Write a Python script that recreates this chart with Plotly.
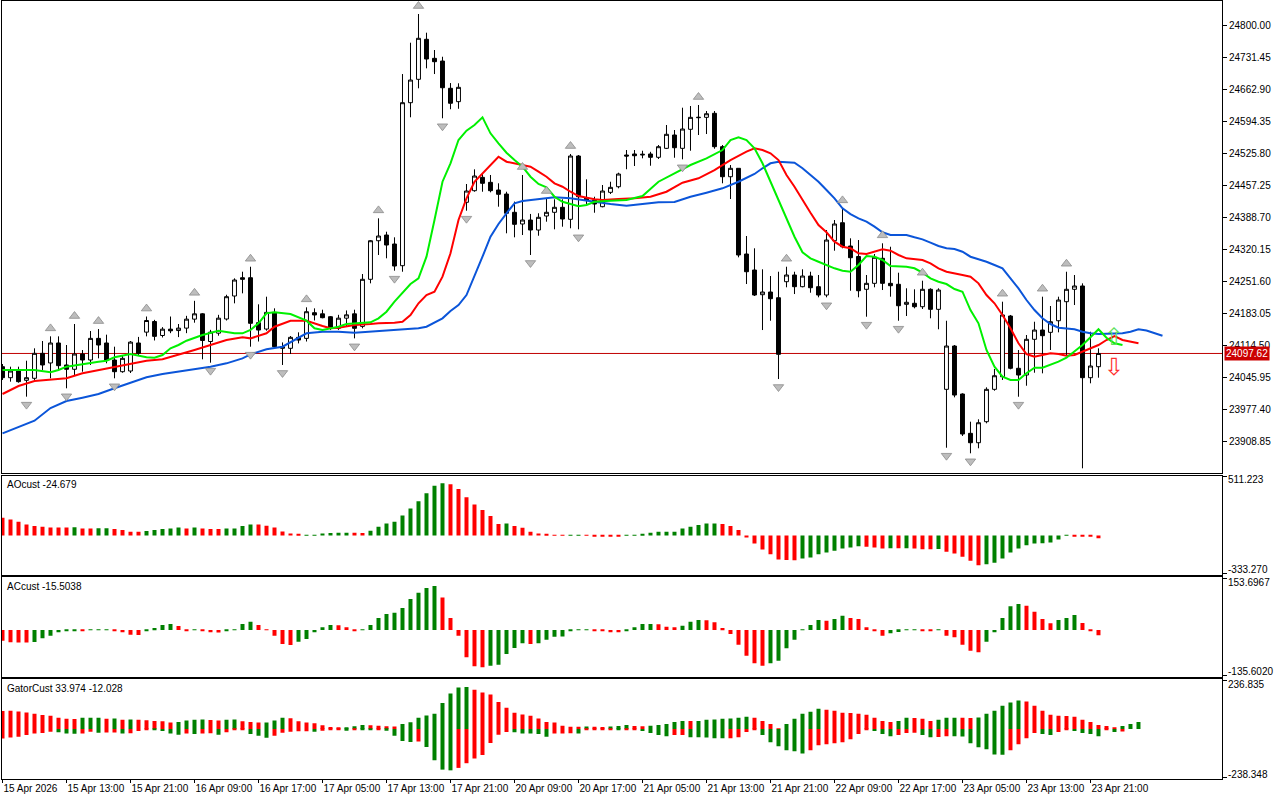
import plotly.graph_objects as go

# ---------------- price data (H1 candles) ----------------
opens = [24069.3,24045.8,24060.1,24040.2,24044.5,24097.9,24077.3,24120.0,24073.0,24063.8,
24096.4,24083.6,24129.9,24120.0,24083.6,24058.6,24060.1,24120.0,24143.2,24165.9,
24136.0,24149.6,24146.6,24151.8,24171.0,24182.4,24123.2,24141.0,24171.3,24220.5,
24259.6,24259.6,24163.4,24149.8,24185.5,24108.6,24108.6,24132.1,24129.9,24184.8,
24182.4,24176.2,24151.4,24173.1,24182.4,24155.5,24256.2,24338.7,24350.9,24331.7,
24285.3,24633.9,24683.9,24769.5,24728.8,24723.0,24664.7,24636.1,24420.9,24445.7,
24474.3,24463.6,24447.2,24438.6,24399.5,24374.5,24383.0,24361.6,24391.6,24399.5,
24410.2,24384.5,24519.9,24430.7,24425.8,24411.5,24442.2,24454.2,24522.0,24524.2,
24522.0,24524.2,24517.1,24536.3,24564.8,24536.3,24577.0,24601.8,24602.6,24611.2,
24539.8,24475.6,24493.6,24310.3,24276.1,24223.3,24229.0,24216.8,24251.1,24265.4,
24240.4,24263.2,24240.4,24222.6,24338.7,24377.2,24327.4,24305.0,24234.8,24247.6,
24301.1,24247.6,24245.5,24202.7,24204.9,24197.6,24234.8,24192.0,24020.9,24113.5,
24010.9,23926.8,23906.7,23951.7,24020.9,24047.9,24177.7,24065.9,24051.5,24127.9,
24147.7,24142.8,24167.6,24208.3,24234.8,24241.9,24045.8,24069.3]
highs = [24075.1,24069.3,24069.3,24082.1,24108.6,24124.2,24134.2,24134.2,24115.7,24160.6,
24105.0,24145.6,24149.8,24137.8,24112.1,24094.3,24124.2,24133.0,24176.6,24169.5,
24153.9,24176.6,24160.6,24178.1,24210.2,24183.8,24148.1,24180.2,24223.2,24258.3,
24272.5,24283.1,24202.7,24219.0,24194.1,24121.2,24134.9,24142.8,24196.3,24194.1,
24191.2,24177.7,24180.2,24189.6,24191.2,24267.5,24340.2,24386.6,24358.0,24346.0,
24695.2,24762.2,24823.6,24783.6,24746.6,24732.2,24675.9,24675.4,24460.0,24491.4,
24482.9,24479.3,24461.5,24443.5,24422.4,24479.3,24396.0,24397.4,24428.0,24427.3,
24427.3,24524.2,24522.0,24470.0,24432.8,24457.9,24464.9,24484.2,24532.7,24532.7,
24531.2,24528.9,24543.4,24586.2,24575.5,24623.2,24626.8,24629.0,24616.1,24616.1,
24543.4,24500.6,24493.6,24348.8,24322.5,24277.6,24263.2,24272.4,24283.1,24272.4,
24277.6,24272.4,24265.4,24361.6,24383.0,24408.0,24343.9,24340.2,24265.4,24310.3,
24333.2,24325.9,24270.3,24237.0,24234.8,24253.2,24237.0,24237.0,24167.6,24115.7,
24012.4,23951.7,23956.8,24025.2,24064.4,24208.3,24179.9,24105.0,24137.1,24165.5,
24219.0,24199.1,24219.0,24272.4,24265.4,24247.6,24144.1,24108.6]
lows = [24040.9,24037.3,24035.1,24005.2,24040.9,24062.3,24044.5,24062.3,24023.1,24051.5,
24058.6,24073.0,24087.2,24076.6,24044.5,24056.4,24055.8,24094.3,24134.2,24125.4,
24131.8,24141.0,24132.6,24141.0,24163.4,24085.1,24077.9,24135.6,24168.1,24204.8,
24226.2,24112.1,24123.2,24146.3,24110.8,24073.0,24096.4,24119.1,24123.2,24168.2,
24172.8,24147.7,24147.7,24155.5,24129.9,24151.4,24247.6,24308.2,24301.1,24274.6,
24272.4,24602.7,24664.7,24707.4,24695.2,24600.6,24619.9,24620.9,24402.9,24443.5,
24443.5,24442.2,24411.5,24354.6,24346.0,24350.9,24308.2,24349.4,24379.4,24363.1,
24368.7,24365.3,24363.1,24417.2,24398.6,24410.2,24438.6,24450.8,24491.6,24498.5,
24514.9,24499.1,24513.5,24534.8,24516.2,24512.8,24531.2,24564.8,24566.9,24535.5,
24461.5,24427.9,24303.2,24246.1,24220.5,24147.7,24167.6,24042.9,24239.1,24224.7,
24239.1,24227.5,24217.7,24217.7,24317.4,24322.5,24231.8,24217.7,24176.2,24239.1,
24233.3,24219.0,24167.6,24177.7,24194.1,24192.7,24172.8,24149.3,23896.0,24003.8,
23921.1,23884.1,23894.8,23948.2,24017.9,24040.9,24063.7,24005.1,24028.6,24056.4,
24055.1,24105.0,24142.8,24092.2,24201.2,23852.0,24033.8,24045.8]
closes = [24045.8,24060.1,24037.3,24045.8,24097.9,24073.0,24120.0,24071.5,24063.8,24096.4,
24083.6,24129.9,24115.7,24083.6,24058.6,24087.2,24121.9,24097.9,24168.1,24134.2,
24149.6,24146.0,24151.8,24171.0,24182.4,24125.4,24143.2,24173.1,24219.0,24254.7,
24256.2,24162.1,24147.7,24185.5,24112.1,24112.1,24132.1,24126.3,24186.9,24179.9,
24174.1,24152.7,24173.1,24180.2,24151.4,24256.2,24338.7,24348.8,24329.5,24284.6,
24633.9,24682.4,24771.6,24727.3,24721.6,24665.9,24632.7,24666.8,24445.0,24477.1,
24461.5,24445.7,24438.0,24397.4,24373.8,24383.0,24361.6,24388.8,24399.5,24410.2,
24385.2,24519.9,24432.8,24425.8,24417.2,24445.0,24452.9,24481.4,24519.9,24520.5,
24523.5,24517.1,24539.8,24566.3,24537.6,24577.6,24602.6,24602.6,24610.3,24539.8,
24475.6,24493.6,24308.2,24272.4,24222.6,24229.0,24214.7,24095.8,24265.4,24240.4,
24263.2,24238.2,24222.6,24340.2,24374.5,24325.9,24302.4,24231.8,24247.6,24303.3,
24247.6,24242.5,24199.7,24207.0,24197.6,24234.8,24192.0,24233.3,24113.5,24008.7,
23925.3,23906.7,23949.5,24020.9,24050.0,24179.9,24065.9,24051.5,24127.9,24147.7,
24135.6,24165.5,24211.9,24234.8,24241.9,24045.8,24070.8,24097.62]
last_price = 24097.62

# ---------------- Alligator lines (bar index, value) ----------------
jaw_idx = [0,2,4,6,8,10,12,14,16,18,20,22,24,26,28,30,31,33,35,37,38,40,42,44,46,48,50,52,53,55,56,57,58,59,60,
61,62,63,64,65,67,69,71,72,74,76,78,80,82,84,86,88,90,92,94,95,96,97,98,99,100,101,102,103,104,105,106,107,108,
109,110,111,113,114,115,116,117,118,119,120,121,122,123,124,125,126,127,128,129,130,131,132,133,134,135,136,137,
139,140,141,142,143,144,145]
jaw_val = [23926.8,23941.0,23953.8,23981.0,23995.9,24003.0,24010.9,24023.1,24035.1,24046.6,24053.7,24058.6,24063.7,
24069.3,24076.5,24087.2,24095.8,24106.5,24112.1,24130.0,24140.7,24144.1,24144.1,24142.0,24144.1,24146.3,24149.3,
24151.4,24154.8,24172.8,24188.4,24201.2,24222.6,24261.8,24304.5,24347.3,24374.5,24397.3,24418.7,24423.6,24427.3,
24431.6,24429.4,24427.3,24422.1,24417.2,24413.6,24417.2,24420.9,24421.5,24432.8,24441.4,24450.8,24464.9,24481.4,
24493.6,24504.3,24507.7,24506.4,24505.5,24493.6,24479.2,24464.9,24447.2,24429.4,24408.0,24395.8,24386.6,24379.4,
24368.7,24356.7,24350.9,24350.9,24346.0,24341.7,24334.5,24327.4,24322.5,24321.0,24315.2,24304.5,24299.0,24293.8,
24286.8,24279.7,24258.3,24236.9,24211.9,24190.5,24172.8,24160.6,24152.7,24151.4,24149.3,24144.1,24140.7,24139.2,
24139.2,24140.7,24144.1,24149.3,24146.7,24140.7,24135.6]
teeth_idx = [0,2,4,6,8,10,12,14,16,18,20,22,24,26,28,30,31,33,34,36,38,40,41,42,44,46,47,49,50,51,52,53,54,55,56,
57,58,59,60,61,62,63,64,65,66,67,68,69,70,71,72,74,75,77,79,81,83,85,87,89,91,93,94,95,96,97,98,99,100,101,102,
103,104,105,106,107,108,109,110,111,112,113,114,115,116,117,118,119,120,121,122,123,124,125,126,127,128,129,130,
131,132,133,134,135,136,137,138,139,140,141,142]
teeth_val = [24010.9,24028.0,24038.7,24042.3,24044.5,24055.2,24062.2,24068.0,24075.1,24082.1,24085.1,24094.3,
24105.0,24115.7,24126.4,24132.2,24129.9,24140.7,24154.8,24167.7,24167.7,24156.3,24151.4,24152.7,24158.5,24160.6,
24162.1,24163.4,24165.5,24179.8,24204.9,24222.6,24229.7,24261.8,24311.8,24383.0,24429.4,24464.9,24482.9,24500.6,
24518.4,24507.7,24504.3,24500.6,24497.0,24486.3,24475.6,24461.5,24454.2,24443.5,24434.3,24427.3,24425.8,24427.9,
24429.4,24432.8,24443.5,24462.8,24472.2,24489.9,24511.3,24529.1,24536.3,24532.7,24525.7,24511.3,24479.2,24454.2,
24425.8,24398.6,24372.3,24356.7,24336.6,24325.9,24322.5,24311.8,24310.3,24315.2,24320.3,24317.4,24308.2,24301.1,
24299.0,24297.5,24290.4,24279.7,24272.4,24269.7,24265.4,24261.8,24247.6,24222.6,24204.9,24179.8,24151.4,24119.3,
24096.4,24090.7,24094.3,24097.9,24096.4,24092.8,24094.3,24101.4,24108.6,24115.7,24126.4,24134.9,24126.4,24122.7,
24119.3]
lips_idx = [0,2,4,6,7,8,10,12,13,14,16,18,19,20,21,22,23,24,25,27,29,30,31,32,33,34,36,38,39,40,42,43,45,46,47,48,
49,50,51,52,53,54,55,56,57,58,59,60,61,62,63,64,65,66,67,68,69,70,71,72,73,74,76,78,80,82,84,86,88,90,91,92,93,
94,95,96,97,98,99,100,101,102,103,104,105,106,107,108,109,110,111,112,113,114,115,116,117,118,119,120,121,122,
123,124,125,126,127,128,129,130,131,132,133,134,135,136,137,138,139,140]
lips_val = [24062.2,24062.2,24062.2,24057.3,24062.2,24069.3,24075.1,24080.0,24082.1,24089.4,24096.4,24089.4,
24088.5,24094.3,24108.6,24115.7,24124.9,24131.3,24137.1,24146.3,24140.7,24140.7,24147.8,24162.1,24183.5,24185.6,
24182.0,24167.7,24151.4,24147.8,24154.8,24160.6,24163.4,24164.2,24172.8,24186.9,24208.3,24227.5,24246.1,24258.3,
24304.5,24383.0,24464.9,24504.3,24554.1,24574.0,24586.2,24602.6,24568.4,24547.0,24526.9,24511.3,24497.0,24475.6,
24460.0,24452.9,24432.8,24422.1,24417.2,24412.3,24415.1,24422.1,24424.3,24425.8,24434.3,24464.9,24482.9,24500.6,
24515.0,24532.7,24554.1,24559.9,24554.1,24536.3,24504.3,24464.9,24425.8,24383.0,24347.3,24313.9,24301.1,24293.8,
24286.8,24279.7,24274.6,24272.4,24286.8,24306.0,24304.5,24297.5,24284.6,24283.1,24283.1,24279.7,24270.3,24258.3,
24251.1,24246.1,24235.4,24229.7,24190.5,24162.1,24105.0,24069.3,24047.9,24040.9,24040.9,24055.2,24067.1,24067.1,
24073.0,24080.0,24088.5,24101.4,24115.7,24132.2,24149.3,24131.3,24119.3,24115.7]

# ---------------- Fractals and signals ----------------
frac_up_idx = [6,9,12,18,24,31,38,47,52,65,68,71,87,98,105,110,115,125,130,133]
frac_dn_idx = [3,8,14,26,31,35,44,49,55,58,66,72,85,97,103,108,112,118,121,127,135]
signal_idx = 139
signal_buy = 24132.8
signal_sell = 24069.7

# ---------------- Oscillators ----------------
ao_vals = [154.7,139.8,119.7,96.1,81.3,76.0,69.9,69.5,69.0,70.2,
61.2,60.5,61.5,62.0,55.1,46.3,32.8,32.3,37.6,46.3,
55.1,61.2,69.9,61.2,68.5,61.2,55.5,55.1,60.0,61.2,
81.3,96.1,95.5,84.8,69.9,35.0,17.5,6.1,-2.6,-1.0,
17.5,21.0,22.5,23.6,23.0,22.0,41.1,76.0,104.9,119.7,
174.8,236.0,297.2,367.1,434.4,454.5,445.7,404.7,332.1,270.9,
221.1,168.7,100.5,104.9,81.3,67.3,32.3,17.5,6.1,2.6,
1.7,2.0,2.6,-2.6,-3.0,-3.5,-4.4,-4.6,-2.6,4.4,
11.4,23.6,31.0,32.3,33.0,61.2,76.0,90.0,104.0,104.9,
98.8,81.3,46.3,-17.5,-69.9,-122.4,-163.4,-209.8,-214.0,-215.9,
-201.0,-192.3,-163.4,-148.6,-133.7,-113.6,-104.9,-93.5,-98.8,-104.9,
-113.6,-112.0,-113.0,-112.5,-114.0,-119.7,-120.0,-119.5,-142.5,-157.3,
-186.2,-221.1,-259.6,-250.8,-238.6,-201.0,-148.6,-113.6,-84.8,-69.9,
-69.0,-61.2,-35.0,-1.5,-4.0,-6.0,-8.0,-24.7]
ao_dir = ("rrrrrrrrr" "g" "rr" "gg" "rrrr" "ggggg" "r" "g" "rrr" "gggg" "rrrrrr" "gggggg" "rr"
          "gggggggggg" "rrrrrrr" "g" "rrrrrrr" "gg" "rrrrr" "gggggggggggg" "rrrrrrrrrr" "gggggggg"
          "rrr" "g" "r" "g" "rrr" "g" "rrrrr" "ggggggggggg" "rrrr")
ac_vals = [-31.8,-36.5,-37.0,-37.5,-36.0,-24.7,-16.9,-6.8,-2.1,-0.9,
-1.5,0.9,1.0,1.2,-3.9,-6.8,-14.0,-14.5,-3.9,5.9,
14.9,17.8,11.9,-0.9,0.9,-0.9,-6.8,-7.2,-2.1,2.1,
17.8,24.7,14.9,2.1,-16.9,-41.6,-44.6,-34.7,-26.7,-6.8,
8.0,14.9,14.5,8.0,-0.9,0.9,14.9,35.6,47.5,51.4,
65.3,92.1,110.8,124.7,130.7,97.1,35.6,-16.9,-81.1,-107.8,
-110.8,-106.0,-103.1,-71.3,-53.5,-39.5,-41.6,-39.5,-28.8,-19.9,
-19.5,-3.9,0.9,1.0,-0.9,-1.5,-6.8,-7.0,-0.9,8.0,
17.8,18.2,17.5,9.8,8.0,12.8,24.7,29.7,29.2,22.9,
5.9,-11.9,-43.7,-76.3,-98.9,-106.0,-98.9,-91.2,-54.4,-28.8,
0.9,14.9,29.7,27.6,32.7,42.5,35.6,32.7,8.0,-3.9,
-16.9,-9.8,-5.9,0.9,1.2,-0.9,-1.2,0.3,-16.9,-21.7,
-43.7,-61.5,-66.2,-34.7,-6.8,35.6,70.4,77.2,72.2,54.4,
32.7,19.9,29.7,35.6,44.6,20.8,-0.9,-15.5]
ac_dir = ("rrrr" "gggggg" "r" "ggg" "rrrr" "gggg" "rr" "g" "rrr" "gggg" "rrrrr" "ggggg" "rrr"
          "gggggggggg" "rrrrrr" "ggggg" "r" "ggggggg" "rrrr" "gggg" "rrr" "ggg" "rrrrrrrr" "ggggggg"
          "r" "gg" "rrrrr" "gggg" "rr" "g" "rrrrr" "ggggg" "rrrr" "ggg" "rrr")
gator_up = [87.6,89.1,85.6,80.7,74.3,67.8,64.4,54.5,49.5,49.0,
54.5,55.0,55.5,49.5,51.0,44.6,46.0,44.6,43.1,39.6,
38.1,31.2,34.7,41.1,44.6,46.0,43.6,41.1,44.6,46.0,
38.1,34.7,31.2,32.2,41.1,54.5,53.0,38.1,31.2,28.2,
18.3,9.9,5.0,8.4,13.4,19.8,18.8,16.3,13.4,12.4,
24.8,33.2,54.5,65.8,74.3,127.2,173.3,203.0,205.4,191.6,
178.2,168.3,132.2,104.0,79.2,70.8,64.4,51.0,34.7,31.2,
16.3,11.4,10.9,11.9,11.4,9.9,12.4,14.9,19.8,14.9,
13.9,15.8,19.8,24.8,34.7,39.6,38.6,39.6,44.6,46.0,
49.5,51.0,54.5,59.4,54.5,39.6,24.8,1.5,24.8,49.5,
74.3,84.2,99.0,94.1,89.1,79.2,77.7,74.3,69.3,54.5,
39.6,34.7,39.6,54.5,53.5,49.5,39.6,44.6,54.5,55.4,
54.5,54.0,55.9,74.3,89.1,113.9,128.7,138.6,133.7,113.9,
89.1,69.3,64.4,63.4,59.4,44.6,34.7,19.8,14.9,4.5,
14.9,24.8,34.0]
gator_up_dir = ("rrrrrrrrrr" "ggg" "r" "g" "r" "g" "rrrrr" "gggg" "rr" "gg" "rrr" "ggg" "rrrrrrr" "ggg"
                "rrrr" "ggggggggg" "rrrrrrrrrrrrrr" "g" "rr" "ggg" "rr" "ggggg" "r" "ggggggg" "rrrr"
                "ggggg" "rrrrrrrrr" "gg" "rrr" "ggg" "rr" "gggggg" "rrrrrrrrrrrr" "ggg")
gator_dn = [-46.0,-41.1,-38.1,-29.7,-21.3,-19.8,-13.4,-16.3,-21.3,-23.3,
-21.3,-13.4,-18.3,-17.3,-16.8,-21.3,-20.3,-9.9,-5.0,-5.9,
-9.9,-21.3,-28.2,-21.3,-24.8,-21.3,-20.3,-28.2,-16.3,-5.9,
-5.0,-24.8,-33.2,-43.1,-33.2,-18.3,-13.4,-11.4,-10.4,-13.4,
-8.4,-5.0,-3.5,-8.4,-5.0,-5.9,-6.4,-5.0,-8.4,-33.2,
-57.9,-62.9,-60.9,-87.6,-152.0,-198.0,-201.5,-189.6,-166.8,-143.6,
-127.2,-67.8,-28.2,-14.9,-16.3,-21.3,-22.3,-24.8,-38.1,-22.3,
-21.3,-20.3,-21.3,-5.0,-4.5,-4.0,-4.0,-5.0,-4.5,-4.0,
-9.9,-19.8,-29.7,-34.7,-29.7,-28.7,-39.6,-40.6,-41.6,-44.6,
-45.5,-44.6,-39.6,-14.9,-5.0,-29.7,-64.4,-84.2,-104.0,-108.9,
-118.8,-104.0,-79.2,-74.3,-69.3,-64.4,-49.5,-24.8,-5.0,-9.9,
-24.8,-34.7,-29.7,-19.8,-18.8,-29.7,-39.6,-38.6,-34.7,-35.6,
-36.6,-69.3,-89.1,-99.0,-123.8,-125.2,-104.0,-74.3,-44.6,-19.8,
-24.8,-29.7,-14.9,-5.0,-9.9,-19.8,-24.8,-34.7,-5.0,-14.9,
-12.0]
gator_dn_dir = ("rrrrrrr" "ggg" "rr" "g" "rr" "g" "rrr" "gggg" "r" "g" "rr" "g" "rrr" "ggg" "rrrrr" "g"
                "rrr" "g" "r" "gg" "r" "gggg" "r" "gggg" "rrrrrrr" "ggggg" "rrr" "g" "rrrr" "g" "rr"
                "gggg" "rr" "ggggg" "rrrr" "gggggg" "rrrrrrrr" "ggg" "rrr" "gg" "rr" "ggggggg" "rrrr"
                "gg" "rr" "gggg" "r" "g" "r")

# ---------------- axis labels ----------------
price_ticks = [24800.00,24731.45,24662.90,24594.35,24525.80,24457.25,24388.70,24320.15,24251.60,
               24183.05,24114.50,24045.95,23977.40,23908.85]
time_labels = ["15 Apr 2026","15 Apr 13:00","15 Apr 21:00","16 Apr 09:00","16 Apr 17:00","17 Apr 05:00",
               "17 Apr 13:00","17 Apr 21:00","20 Apr 09:00","20 Apr 17:00","21 Apr 05:00","21 Apr 13:00",
               "21 Apr 21:00","22 Apr 09:00","22 Apr 17:00","23 Apr 05:00","23 Apr 13:00","23 Apr 21:00"]
time_label_every = 8
ao_range_lbl = [-333.270, 511.223]
ac_range_lbl = [-135.6020, 153.6967]
gator_range_lbl = [-238.348, 236.835]
ao_title = "AOcust -24.679"
ac_title = "ACcust -15.5038"
gator_title = "GatorCust 33.974 -12.028"

# ---------------- build ----------------
FONT = "Liberation Sans, Arial, sans-serif"
FS = 10
GREEN, RED = "#008000", "#ff0000"
N = len(opens)
idx = list(range(N))


def cols(code, n):
    code = (code + code[-1] * n)[:n]
    return [GREEN if c == "g" else RED for c in code]


fig = go.Figure()
fig.add_trace(go.Candlestick(
    x=idx, open=opens, high=highs, low=lows, close=closes,
    increasing=dict(line=dict(color="black", width=1), fillcolor="white"),
    decreasing=dict(line=dict(color="black", width=1), fillcolor="black"),
    whiskerwidth=0, hoverinfo="skip", showlegend=False, xaxis="x", yaxis="y"))
for xs, ys, c in [(jaw_idx, jaw_val, "#0b55d9"), (teeth_idx, teeth_val, "#ff0000"), (lips_idx, lips_val, "#00f000")]:
    fig.add_trace(go.Scatter(x=xs, y=ys, mode="lines", line=dict(color=c, width=2),
                             hoverinfo="skip", showlegend=False, xaxis="x", yaxis="y"))
off = 17.0
fig.add_trace(go.Scatter(x=frac_up_idx, y=[highs[i] + off for i in frac_up_idx], mode="markers",
                         marker=dict(symbol="triangle-up", size=9, color="#bdbdbd",
                                     line=dict(color="#8c8c8c", width=0.8)),
                         hoverinfo="skip", showlegend=False, xaxis="x", yaxis="y"))
fig.add_trace(go.Scatter(x=frac_dn_idx, y=[lows[i] - off for i in frac_dn_idx], mode="markers",
                         marker=dict(symbol="triangle-down", size=9, color="#bdbdbd",
                                     line=dict(color="#8c8c8c", width=0.8)),
                         hoverinfo="skip", showlegend=False, xaxis="x", yaxis="y"))

fig.add_trace(go.Bar(x=list(range(len(ao_vals))), y=ao_vals, width=0.5,
                     marker=dict(color=cols(ao_dir, len(ao_vals)), line=dict(width=0)),
                     hoverinfo="skip", showlegend=False, xaxis="x2", yaxis="y2"))
fig.add_trace(go.Bar(x=list(range(len(ac_vals))), y=ac_vals, width=0.5,
                     marker=dict(color=cols(ac_dir, len(ac_vals)), line=dict(width=0)),
                     hoverinfo="skip", showlegend=False, xaxis="x3", yaxis="y3"))
fig.add_trace(go.Bar(x=list(range(len(gator_up))), y=gator_up, width=0.5,
                     marker=dict(color=cols(gator_up_dir, len(gator_up)), line=dict(width=0)),
                     hoverinfo="skip", showlegend=False, xaxis="x4", yaxis="y4"))
fig.add_trace(go.Bar(x=list(range(len(gator_dn))), y=gator_dn, width=0.5,
                     marker=dict(color=cols(gator_dn_dir, len(gator_dn)), line=dict(width=0)),
                     hoverinfo="skip", showlegend=False, xaxis="x4", yaxis="y4"))

xr = [-0.0625, 152.44]
ax_common = dict(range=xr, showgrid=False, zeroline=False, showline=True, mirror=True,
                 linecolor="black", linewidth=1, fixedrange=True)
dom_main = [0.3937, 1.0]
dom_ao = [0.2626, 0.3898]
dom_ac = [0.1315, 0.2593]
dom_g = [0.0, 0.1281]


def pad_range(lbl, lo_px, hi_px, npx):
    per = (lbl[1] - lbl[0]) / npx
    return [lbl[0] - lo_px * per, lbl[1] + hi_px * per]


layout = dict(
    width=1280, height=800, margin=dict(l=2, r=58, t=1, b=21, autoexpand=False),
    paper_bgcolor="white", plot_bgcolor="white", showlegend=False, barmode="relative",
    font=dict(family=FONT, size=FS, color="black"),
    xaxis=dict(ax_common, anchor="y", showticklabels=False, ticks="", rangeslider=dict(visible=False)),
    xaxis2=dict(ax_common, anchor="y2", showticklabels=False, ticks=""),
    xaxis3=dict(ax_common, anchor="y3", showticklabels=False, ticks=""),
    xaxis4=dict(ax_common, anchor="y4", ticks="outside", ticklen=3, tickcolor="black", tickangle=0,
                tickvals=[i * time_label_every for i in range(len(time_labels))], ticktext=time_labels,
                ticklabelposition="outside right", tickfont=dict(family=FONT, size=FS)),
    yaxis=dict(domain=dom_main, range=[23842.6, 24851.4], side="right", anchor="x",
               tickvals=price_ticks, ticktext=["%.2f" % v for v in price_ticks],
               ticks="outside", ticklen=4, tickcolor="black", showgrid=False, zeroline=False,
               showline=True, mirror=True, linecolor="black", linewidth=1,
               tickfont=dict(family=FONT, size=FS), fixedrange=True),
)
for name, dom, lbl in [("yaxis2", dom_ao, ao_range_lbl), ("yaxis3", dom_ac, ac_range_lbl),
                       ("yaxis4", dom_g, gator_range_lbl)]:
    layout[name] = dict(domain=dom, range=pad_range(lbl, 1.1, 1.1, 96.6), side="right",
                        anchor="x" + name[-1], tickvals=lbl, ticktext=["", ""], ticks="outside",
                        ticklen=4, tickcolor="black", showgrid=False, zeroline=False, showline=True,
                        mirror=True, linecolor="black", linewidth=1, fixedrange=True)
fig.update_layout(**layout)

# current price line + label
fig.add_shape(type="line", xref="x domain", x0=0, x1=1, yref="y", y0=last_price, y1=last_price,
              line=dict(color="#c00000", width=1), layer="below")
ann = []
ann.append(dict(text="%.2f" % last_price, xref="paper", x=1, xanchor="left", xshift=2, yref="y",
                y=last_price, yanchor="middle", showarrow=False, bgcolor="#cc0000",
                font=dict(color="white", size=FS, family=FONT), borderpad=1))
# signal arrows
ann.append(dict(text="\u21e7", x=signal_idx, y=signal_buy, xref="x", yref="y", showarrow=False,
                font=dict(color="#5ee05e", size=24, family="DejaVu Sans")))
ann.append(dict(text="\u21e9", x=signal_idx, y=signal_sell, xref="x", yref="y", showarrow=False,
                font=dict(color="#ff3030", size=24, family="DejaVu Sans")))
# panel titles
for t, yr, yy in [(ao_title, "y2 domain", 0.909), (ac_title, "y3 domain", 0.905), (gator_title, "y4 domain", 0.91)]:
    ann.append(dict(text=t, xref="paper", x=0, xanchor="left", xshift=3, yref=yr, y=yy,
                    yanchor="middle", showarrow=False, font=dict(size=FS, family=FONT)))
# subpanel scale labels
for lbl, yr, top, bot, dec in [(ao_range_lbl, "y2 domain", 0.957, 0.05, 3),
                               (ac_range_lbl, "y3 domain", 0.95, 0.05, 4),
                               (gator_range_lbl, "y4 domain", 0.946, 0.05, 3)]:
    ann.append(dict(text=("%." + str(dec) + "f") % lbl[1], xref="paper", x=1, xanchor="left", xshift=4,
                    yref=yr, y=top, yanchor="middle", showarrow=False, font=dict(size=FS, family=FONT)))
    ann.append(dict(text=("%." + str(dec) + "f") % lbl[0], xref="paper", x=1, xanchor="left", xshift=4,
                    yref=yr, y=bot, yanchor="middle", showarrow=False, font=dict(size=FS, family=FONT)))
fig.update_layout(annotations=ann)

fig.write_html("out.html", config={"displayModeBar": False},
               post_script="document.body.style.margin='0';document.body.style.padding='0';"
                           "document.documentElement.style.overflow='hidden';")
